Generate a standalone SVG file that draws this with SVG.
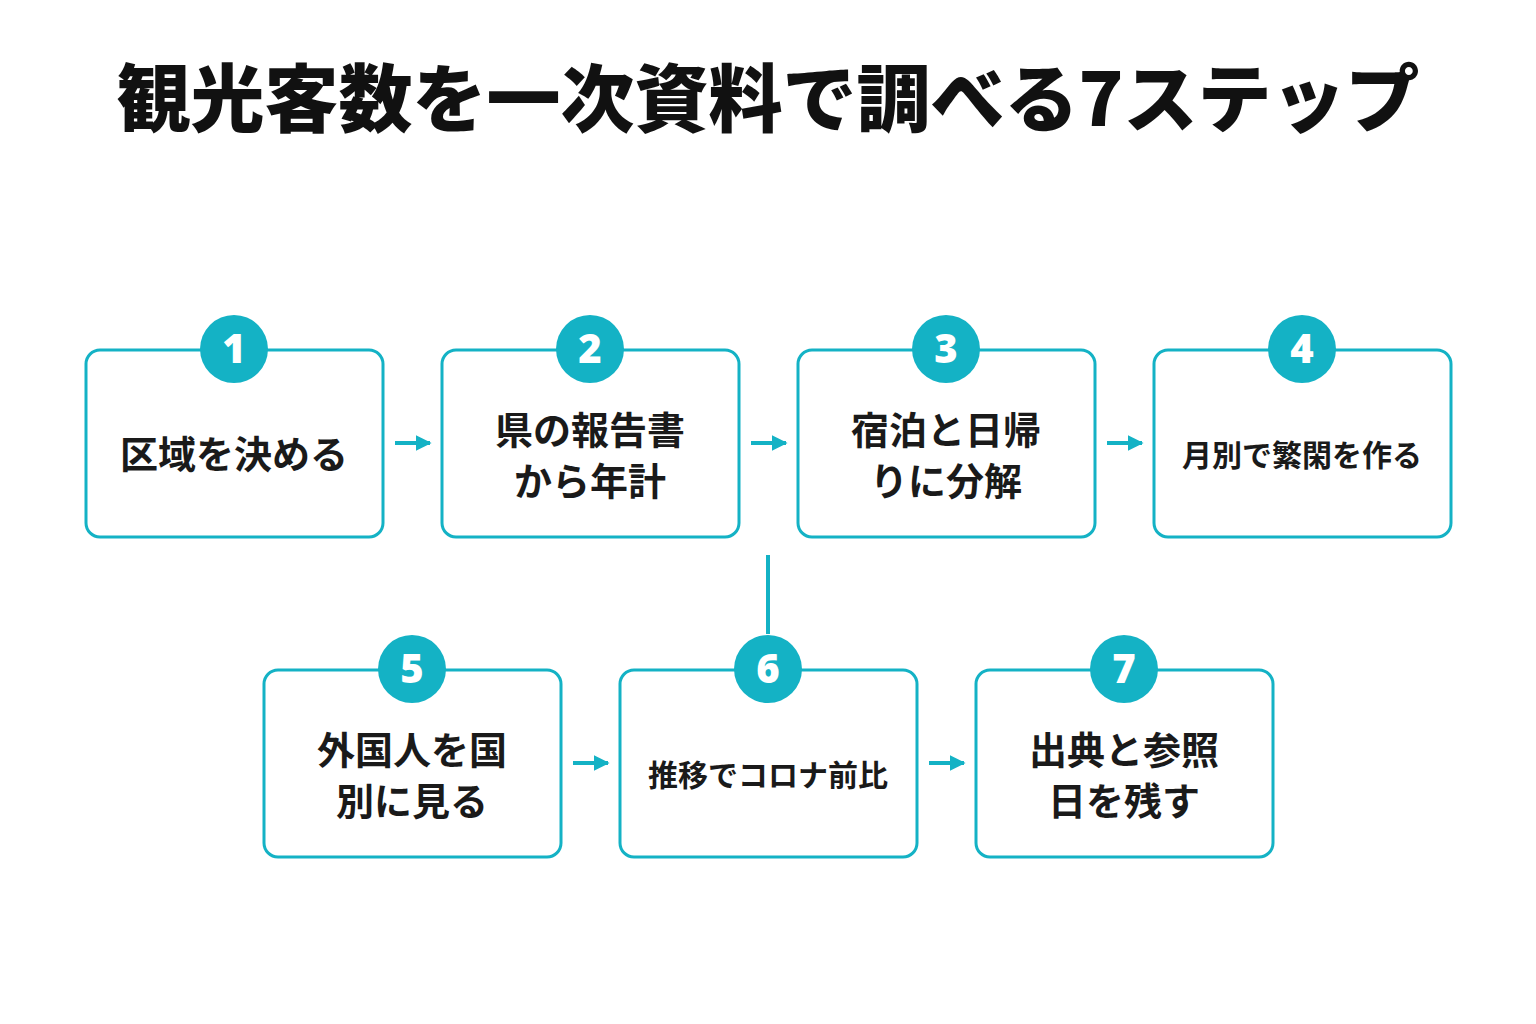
<svg xmlns="http://www.w3.org/2000/svg" width="1536" height="1024" viewBox="0 0 1536 1024">
<style>
.box{fill:#fff;stroke:#14b2c5;stroke-width:3}
.num{fill:#14b2c5}
.nt{font-family:"Noto Sans","Noto Sans CJK JP",sans-serif;font-weight:900;font-size:40px;fill:#fff;text-anchor:middle}
.t{font-family:"Noto Sans CJK JP",sans-serif;font-weight:700;font-size:38px;fill:#1a1a1a;text-anchor:middle}
.s{font-size:30px}
.c{stroke:#14b2c5;stroke-width:4;fill:none}
</style>
<defs><marker id="a" viewBox="0 0 10 10" refX="9" refY="5" markerWidth="4" markerHeight="4" orient="auto"><path d="M0,0L10,5L0,10z" fill="#14b2c5"/></marker></defs>
<rect width="1536" height="1024" fill="#fff"/>
<text x="768" y="126" text-anchor="middle" font-family="Noto Sans CJK JP,sans-serif" font-weight="900" font-size="74" fill="#111">観光客数を一次資料で調べる7ステップ</text>
<g id="connectors">
<line class="c" x1="395" y1="443" x2="430" y2="443" marker-end="url(#a)"/>
<line class="c" x1="751" y1="443" x2="786" y2="443" marker-end="url(#a)"/>
<line class="c" x1="1107" y1="443" x2="1142" y2="443" marker-end="url(#a)"/>
<line class="c" x1="573" y1="763" x2="608" y2="763" marker-end="url(#a)"/>
<line class="c" x1="929" y1="763" x2="964" y2="763" marker-end="url(#a)"/>
<line class="c" x1="768" y1="555" x2="768" y2="634"/>
</g>
<g id="n1"><rect class="box" x="86" y="350" width="297" height="187" rx="14"/><circle class="num" cx="234" cy="349" r="34"/><text class="nt" x="234" y="363">1</text><text class="t" x="234" y="468">区域を決める</text></g>
<g id="n2"><rect class="box" x="442" y="350" width="297" height="187" rx="14"/><circle class="num" cx="590" cy="349" r="34"/><text class="nt" x="590" y="363">2</text><text class="t" x="590" y="444">県の報告書</text><text class="t" x="590" y="495">から年計</text></g>
<g id="n3"><rect class="box" x="798" y="350" width="297" height="187" rx="14"/><circle class="num" cx="946" cy="349" r="34"/><text class="nt" x="946" y="363">3</text><text class="t" x="946" y="444">宿泊と日帰</text><text class="t" x="946" y="495">りに分解</text></g>
<g id="n4"><rect class="box" x="1154" y="350" width="297" height="187" rx="14"/><circle class="num" cx="1302" cy="349" r="34"/><text class="nt" x="1302" y="363">4</text><text class="t s" x="1302" y="466">月別で繁閑を作る</text></g>
<g id="n5"><rect class="box" x="264" y="670" width="297" height="187" rx="14"/><circle class="num" cx="412" cy="669" r="34"/><text class="nt" x="412" y="683">5</text><text class="t" x="412" y="764">外国人を国</text><text class="t" x="412" y="815">別に見る</text></g>
<g id="n6"><rect class="box" x="620" y="670" width="297" height="187" rx="14"/><circle class="num" cx="768" cy="669" r="34"/><text class="nt" x="768" y="683">6</text><text class="t s" x="768" y="786">推移でコロナ前比</text></g>
<g id="n7"><rect class="box" x="976" y="670" width="297" height="187" rx="14"/><circle class="num" cx="1124" cy="669" r="34"/><text class="nt" x="1124" y="683">7</text><text class="t" x="1124" y="764">出典と参照</text><text class="t" x="1124" y="815">日を残す</text></g>
</svg>
